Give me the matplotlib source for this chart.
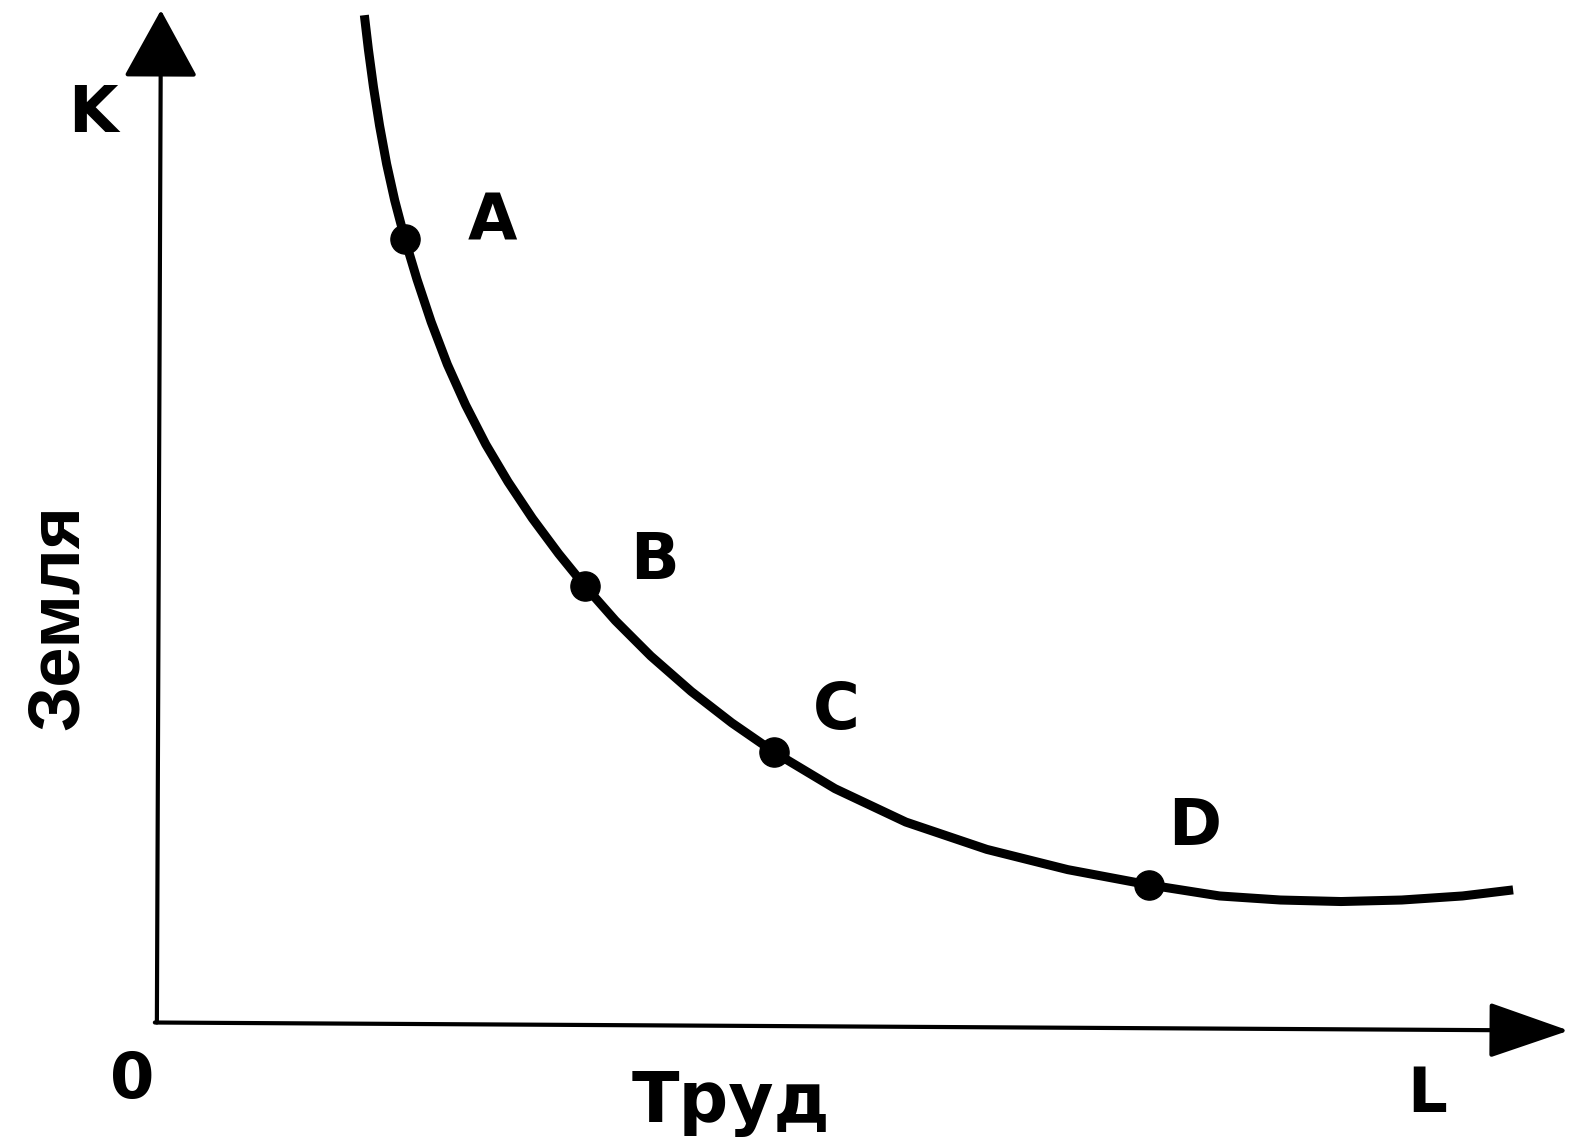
import matplotlib.pyplot as plt

# isoquant (origin of the axes = 0, 0)
labor = [205, 209, 214, 220, 227, 235, 245, 257, 271, 287, 305, 325, 347, 371, 397, 423,
         453, 488, 528, 568, 610, 670, 740, 820, 900, 980, 1050, 1110, 1170, 1230, 1290, 1340]
land = [995, 961, 924, 886, 848, 812, 774, 734, 692, 650, 610, 571, 534, 498, 463, 431,
        397, 362, 327, 296, 267, 231, 198, 171, 151, 136, 125, 121, 119.5, 121, 125, 131]

point_names = ['A', 'B', 'C', 'D']
point_labor = [245, 423, 610, 980]
point_land = [774, 431, 267, 136]
label_labor = [331, 492, 671, 1025]
label_land = [772, 438, 290, 175]

fig = plt.figure(figsize=(15.87, 11.44), dpi=100)
ax = fig.add_axes([0, 0, 1, 1])
ax.set_xlim(-155, 1413)
ax.set_ylim(-120, 1010)
ax.axis('off')

font = dict(family=['DejaVu Sans'], fontweight='bold', color='black')

# axes with arrows
ax.annotate('', xy=(4, 1000), xytext=(0, 0),
            arrowprops=dict(arrowstyle='-|>,head_length=0.6,head_width=0.33',
                            lw=3, color='black', mutation_scale=72, shrinkA=0, shrinkB=0))
ax.annotate('', xy=(1395, -8), xytext=(-2, 0),
            arrowprops=dict(arrowstyle='-|>,head_length=0.75,head_width=0.26',
                            lw=3, color='black', mutation_scale=68, shrinkA=0, shrinkB=0))

ax.plot(labor, land, color='black', lw=6.5, solid_capstyle='butt', solid_joinstyle='round')
ax.plot(point_labor, point_land, 'o', color='black', markersize=21)

for name, x, y in zip(point_names, label_labor, label_land):
    ax.text(x, y, name, fontsize=46, ha='center', va='baseline', **font)

ax.text(-63, 880, 'K', fontsize=46, ha='center', va='baseline', **font)
ax.text(-24, -75, '0', fontsize=46, ha='center', va='baseline', **font)
ax.text(1255, -88, 'L', fontsize=45, ha='center', va='baseline', **font)
ax.text(567, -98, 'Труд', fontsize=50, ha='center', va='baseline', **font)
ax.text(-97, 400, 'Земля', fontsize=52, ha='center', va='center', rotation=90,
        family=['Liberation Sans', 'DejaVu Sans'], fontweight='bold', color='black')

fig.savefig('out.png', dpi=100)
